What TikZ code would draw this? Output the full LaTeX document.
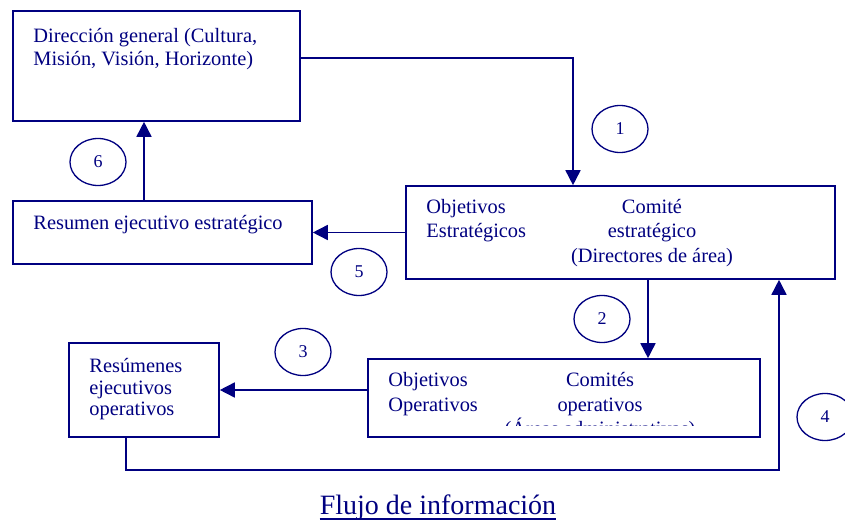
\documentclass[tikz,border=0pt]{standalone}
\usepackage{fontspec}
\setmainfont{Liberation Serif}
\usetikzlibrary{arrows.meta, shapes.geometric}
\definecolor{navy}{RGB}{0,0,128}

\begin{document}
\begin{tikzpicture}[x=1pt, y=-1pt,
  box/.style={draw=navy, line width=1.6pt, rectangle, inner sep=0pt},
  txt/.style={text=navy, font=\fontsize{20.4}{23}\selectfont, inner sep=0pt},
  wide/.style={font=\fontsize{20.4}{24.5}\selectfont},
  num/.style={ellipse, draw=navy, line width=1.3pt, minimum width=56pt, minimum height=47pt,
    inner sep=0pt, text=navy, font=\fontsize{18}{20}\selectfont},
  flow/.style={draw=navy, line width=1.6pt, -{Triangle[length=15pt, width=15pt]}}]
\useasboundingbox (0,0) rectangle (845,521);
% Boxes
\node[box, minimum width=287pt, minimum height=110pt] (dir) at (156.5,66) {};
\node[box, minimum width=429pt, minimum height=93pt] (est) at (620.5,232.5) {};
\node[box, minimum width=299pt, minimum height=63pt] (resest) at (162.5,232.5) {};
\node[box, minimum width=392pt, minimum height=78pt] (ope) at (564,398) {};
\node[box, minimum width=150pt, minimum height=94pt] (resope) at (144,390) {};
% Texts in the boxes
\node[txt, anchor=north west, align=left] (dirtxt) at ([shift={(21,17.5)}]dir.north west)
  {Dirección general (Cultura,\\Misión, Visión, Horizonte)};
\node[txt, wide, anchor=north west, align=left] (esttxt) at ([shift={(21,13.5)}]est.north west)
  {Objetivos\\Estratégicos};
\node[txt, wide, anchor=north, align=center] (comtxt) at ([shift={(31.5,13.5)}]est.north)
  {Comité\\estratégico\\(Directores de área)};
\node[txt, anchor=north west] (resesttxt) at ([shift={(21,15)}]resest.north west)
  {Resumen ejecutivo estratégico};
\node[txt, wide, anchor=north west, align=left] (opetxt) at ([shift={(21,14)}]ope.north west)
  {Objetivos\\Operativos};
\begin{scope}
\clip (ope.north west) rectangle ([yshift=12pt]ope.south east);
\node[txt, wide, anchor=north, align=center] (comopetxt) at ([shift={(36,14)}]ope.north)
  {Comités\\operativos\\(Áreas administrativas)};
\end{scope}
\node[txt, font=\fontsize{20.4}{21.5}\selectfont, anchor=north west, align=left] (resopetxt)
  at ([shift={(21,16)}]resope.north west) {Resúmenes\\ejecutivos\\operativos};
% Numbered steps
\node[num] (n1) at (620,129) {1};
\node[num] (n2) at (602,319) {2};
\node[num] (n3) at (303,352) {3};
\node[num] (n4) at (825,417) {4};
\node[num] (n5) at (359,272) {5};
\node[num] (n6) at (98,162) {6};
% Connectors
\draw[flow] ([yshift=8pt]dir.east) -| ([xshift=-47.5pt]est.north);
\draw[flow] ([xshift=27.5pt]est.south) -- ([xshift=84pt]ope.north);
\draw[flow] (resope.east -| ope.west) -- (resope.east);
\draw[flow] ([xshift=-18pt]resope.south) -- ++(0,32) -| ([xshift=158.5pt]est.south);
\draw[flow] (est.west) -- (resest.east);
\draw[flow] ([xshift=-18.5pt]resest.north) -- ([xshift=-12.5pt]dir.south);
% Title, underlined
\node[text=navy, font=\fontsize{28}{30}\selectfont, anchor=base, inner sep=0pt] (title) at (438,514)
  {Flujo de información};
\draw[navy, line width=1.2pt] ([yshift=-5pt]title.base west) -- ([yshift=-5pt]title.base east);
\end{tikzpicture}
\end{document}
